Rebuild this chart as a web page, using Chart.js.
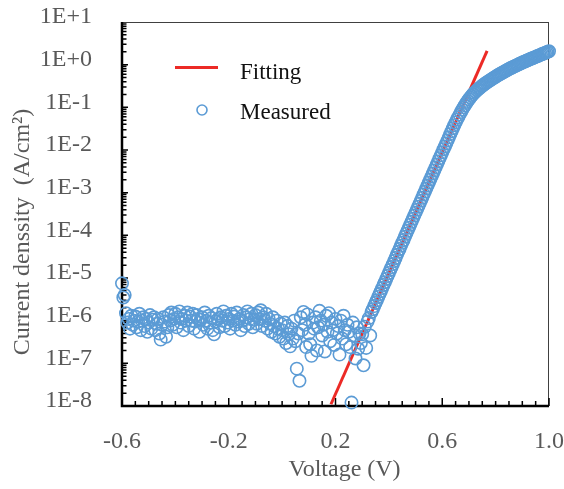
<!DOCTYPE html>
<html>
<head>
<meta charset="utf-8">
<script src="https://cdn.jsdelivr.net/npm/chart.js@4.4.0/dist/chart.umd.min.js"></script>
<style>
html,body{margin:0;padding:0;background:#fff;}
#wrap{width:564px;height:489px;}
</style>
</head>
<body>
<div id="wrap"><canvas id="jv" width="564" height="489"></canvas></div>
<script>
// measured sweep (V) and current density (A/cm2)
const volts = [
  -0.600,-0.595,-0.590,-0.585,-0.580,-0.575,-0.570,-0.565,-0.560,-0.555,
  -0.550,-0.545,-0.540,-0.535,-0.530,-0.525,-0.520,-0.515,-0.510,-0.505,
  -0.500,-0.495,-0.490,-0.485,-0.480,-0.475,-0.470,-0.465,-0.460,-0.455,
  -0.450,-0.445,-0.440,-0.435,-0.430,-0.425,-0.420,-0.415,-0.410,-0.405,
  -0.400,-0.395,-0.390,-0.385,-0.380,-0.375,-0.370,-0.365,-0.360,-0.355,
  -0.350,-0.345,-0.340,-0.335,-0.330,-0.325,-0.320,-0.315,-0.310,-0.305,
  -0.300,-0.295,-0.290,-0.285,-0.280,-0.275,-0.270,-0.265,-0.260,-0.255,
  -0.250,-0.245,-0.240,-0.235,-0.230,-0.225,-0.220,-0.215,-0.210,-0.205,
  -0.200,-0.195,-0.190,-0.185,-0.180,-0.175,-0.170,-0.165,-0.160,-0.155,
  -0.150,-0.145,-0.140,-0.135,-0.130,-0.125,-0.120,-0.115,-0.110,-0.105,
  -0.100,-0.095,-0.090,-0.085,-0.080,-0.075,-0.070,-0.065,-0.060,-0.055,
  -0.050,-0.045,-0.040,-0.035,-0.030,-0.025,-0.020,-0.015,-0.010,-0.005,
  0.000,0.005,0.010,0.015,0.020,0.025,0.030,0.035,0.040,0.045,
  0.050,0.055,0.060,0.065,0.070,0.075,0.080,0.085,0.090,0.095,
  0.100,0.105,0.110,0.115,0.120,0.125,0.130,0.135,0.140,0.145,
  0.150,0.155,0.160,0.165,0.170,0.175,0.180,0.185,0.190,0.195,
  0.200,0.205,0.210,0.215,0.220,0.225,0.230,0.235,0.240,0.245,
  0.250,0.255,0.260,0.265,0.270,0.275,0.280,0.285,0.290,0.295,
  0.300,0.305,0.310,0.315,0.320,0.325,0.330,0.335,0.340,0.345,
  0.350,0.355,0.360,0.365,0.370,0.375,0.380,0.385,0.390,0.395,
  0.400,0.405,0.410,0.415,0.420,0.425,0.430,0.435,0.440,0.445,
  0.450,0.455,0.460,0.465,0.470,0.475,0.480,0.485,0.490,0.495,
  0.500,0.505,0.510,0.515,0.520,0.525,0.530,0.535,0.540,0.545,
  0.550,0.555,0.560,0.565,0.570,0.575,0.580,0.585,0.590,0.595,
  0.600,0.605,0.610,0.615,0.620,0.625,0.630,0.635,0.640,0.645,
  0.650,0.655,0.660,0.665,0.670,0.675,0.680,0.685,0.690,0.695,
  0.700,0.705,0.710,0.715,0.720,0.725,0.730,0.735,0.740,0.745,
  0.750,0.755,0.760,0.765,0.770,0.775,0.780,0.785,0.790,0.795,
  0.800,0.805,0.810,0.815,0.820,0.825,0.830,0.835,0.840,0.845,
  0.850,0.855,0.860,0.865,0.870,0.875,0.880,0.885,0.890,0.895,
  0.900,0.905,0.910,0.915,0.920,0.925,0.930,0.935,0.940,0.945,
  0.950,0.955,0.960,0.965,0.970,0.975,0.980,0.985,0.990,0.995,
  1.000
];
const density = [
  7.5e-6,3.5e-6,4.0e-6,1.5e-6,9.0e-7,1.1e-6,6.5e-7,1.3e-6,8.0e-7,1.0e-6,
  1.25e-6,7.0e-7,9.5e-7,1.45e-6,6.0e-7,1.0e-6,1.2e-6,7.5e-7,1.1e-6,5.5e-7,
  9.0e-7,1.35e-6,6.5e-7,1.05e-6,1.2e-6,6.0e-7,8.5e-7,1.1e-6,5.0e-7,3.6e-7,
  8.0e-7,1.2e-6,9.5e-7,4.2e-7,7.0e-7,1.35e-6,1.0e-6,1.55e-6,8.0e-7,1.1e-6,
  1.45e-6,7.0e-7,1.2e-6,1.65e-6,9.0e-7,1.1e-6,6.0e-7,1.3e-6,1.0e-6,1.55e-6,
  7.5e-7,1.25e-6,1.0e-6,1.45e-6,6.5e-7,9.5e-7,1.35e-6,1.1e-6,5.5e-7,1.05e-6,
  1.2e-6,8.0e-7,1.55e-6,1.0e-6,6.5e-7,1.3e-6,9.0e-7,1.15e-6,6.0e-7,4.8e-7,
  9.5e-7,1.45e-6,1.1e-6,7.0e-7,1.2e-6,1.0e-6,1.65e-6,7.5e-7,1.3e-6,9.0e-7,
  1.1e-6,6.5e-7,1.45e-6,1.0e-6,1.25e-6,8.0e-7,1.55e-6,9.5e-7,1.1e-6,6.0e-7,
  1.0e-6,1.35e-6,7.5e-7,1.2e-6,1.65e-6,8.5e-7,1.1e-6,1.45e-6,7.0e-7,1.05e-6,
  1.35e-6,8.5e-7,1.55e-6,1.1e-6,1.75e-6,7.5e-7,1.2e-6,1.0e-6,1.45e-6,6.5e-7,
  1.1e-6,8.5e-7,5.5e-7,1.2e-6,7.5e-7,5.0e-7,1.0e-6,6.5e-7,4.2e-7,8.5e-7,
  6.0e-7,3.8e-7,9.0e-7,3.0e-7,7.5e-7,4.8e-7,2.5e-7,6.5e-7,3.8e-7,1.0e-6,
  3.3e-7,7.5e-8,5.0e-7,3.9e-8,1.2e-6,6.0e-7,1.6e-6,8.0e-7,2.4e-7,1.4e-6,
  5.0e-7,2.8e-7,1.5e-7,9.0e-7,6.5e-7,1.2e-6,2.0e-7,7.0e-7,1.7e-6,1.0e-6,
  4.5e-7,8.0e-7,1.9e-7,1.3e-6,5.5e-7,1.5e-6,3.3e-7,9.0e-7,6.0e-7,2.7e-7,
  1.1e-6,5.0e-7,7.5e-7,1.6e-7,1.0e-6,3.8e-7,1.3e-6,6.0e-7,2.8e-7,8.0e-7,
  5.5e-7,2.4e-7,1.2e-8,9.0e-7,4.5e-7,1.3e-7,7.0e-7,2.2e-7,5.0e-7,3.0e-7,
  4.8e-7,9.0e-8,7.2e-7,2.3e-7,9.5e-7,1.15e-6,4.5e-7,1.6e-6,1.85e-6,2.2e-6,
  2.6e-6,3.0e-6,3.6e-6,4.2e-6,4.9e-6,5.8e-6,6.9e-6,8.0e-6,9.5e-6,1.12e-5,
  1.31e-5,1.55e-5,1.8e-5,2.12e-5,2.5e-5,2.95e-5,3.5e-5,4.1e-5,4.8e-5,5.7e-5,
  6.7e-5,7.8e-5,9.3e-5,1.09e-4,1.28e-4,1.51e-4,1.77e-4,2.08e-4,2.46e-4,2.9e-4,
  3.4e-4,4.0e-4,4.7e-4,5.5e-4,6.5e-4,7.6e-4,9.1e-4,1.06e-3,1.25e-3,1.47e-3,
  1.73e-3,2.03e-3,2.4e-3,2.82e-3,3.32e-3,3.9e-3,4.6e-3,5.4e-3,6.4e-3,7.5e-3,
  8.8e-3,1.04e-2,1.21e-2,1.42e-2,1.68e-2,1.98e-2,2.35e-2,2.75e-2,3.24e-2,3.8e-2,
  4.42e-2,5.13e-2,5.89e-2,6.76e-2,7.76e-2,8.81e-2,0.100,0.112,0.126,0.140,
  0.155,0.170,0.186,0.202,0.219,0.234,0.251,0.269,0.285,0.302,
  0.320,0.338,0.356,0.376,0.395,0.414,0.434,0.455,0.477,0.499,
  0.522,0.547,0.572,0.594,0.620,0.644,0.672,0.697,0.728,0.755,
  0.790,0.819,0.849,0.879,0.910,0.942,0.975,1.01,1.05,1.08,
  1.12,1.16,1.19,1.23,1.27,1.31,1.35,1.39,1.43,1.48,
  1.52,1.57,1.62,1.67,1.72,1.77,1.82,1.88,1.94,2.00,
  2.06
];

// fitted line end points
const fitVolts = [0.183, 0.768];
const fitDensity = [1.1e-8, 2.1];

const xTickValues = [-0.6, -0.2, 0.2, 0.6, 1.0];
const yTickValues = [1e-8, 1e-7, 1e-6, 1e-5, 1e-4, 1e-3, 1e-2, 1e-1, 1e0, 1e1];

const serif = '"Liberation Serif", "Times New Roman", serif';
const grey = '#595959';

// axes frame, inward ticks, legend
const frame = {
  id: 'frame',
  beforeDatasetsDraw(chart) {
    const {ctx, chartArea: a, scales: {x, y}} = chart;
    ctx.save();
    ctx.strokeStyle = '#404040';
    ctx.lineWidth = 1;
    ctx.beginPath();
    ctx.moveTo(a.left, a.top + 0.5); ctx.lineTo(a.right, a.top + 0.5);
    ctx.moveTo(a.right - 0.5, a.top); ctx.lineTo(a.right - 0.5, a.bottom);
    ctx.stroke();

    ctx.strokeStyle = '#000';
    ctx.lineWidth = 1.5;
    ctx.beginPath();
    for (let e = -8; e < 1; e++) {
      for (let m = 1; m < 10; m++) {
        const py = y.getPixelForValue(m * Math.pow(10, e));
        const len = m === 1 ? 6 : 4.5;
        ctx.moveTo(a.left, py); ctx.lineTo(a.left + len, py);
      }
    }
    for (let i = 0; i <= 32; i++) {
      const px = x.getPixelForValue(-0.6 + i * 0.05);
      const len = i % 8 === 0 ? 8 : 5;
      ctx.moveTo(px, a.bottom); ctx.lineTo(px, a.bottom - len);
    }
    ctx.stroke();

    ctx.lineWidth = 2.5;
    ctx.beginPath();
    ctx.moveTo(a.left, a.top);
    ctx.lineTo(a.left, a.bottom);
    ctx.lineTo(a.right, a.bottom);
    ctx.stroke();
    ctx.restore();
  },
  afterDraw(chart) {
    const {ctx} = chart;
    const meas = chart.data.datasets[0];
    const fit = chart.data.datasets[1];
    ctx.save();
    ctx.strokeStyle = fit.borderColor;
    ctx.lineWidth = fit.borderWidth;
    ctx.beginPath(); ctx.moveTo(175, 67.5); ctx.lineTo(218, 67.5); ctx.stroke();
    ctx.strokeStyle = meas.borderColor;
    ctx.lineWidth = meas.borderWidth;
    ctx.beginPath(); ctx.arc(202, 110, 5, 0, Math.PI * 2); ctx.stroke();
    ctx.fillStyle = '#111';
    ctx.font = '23px ' + serif;
    ctx.textBaseline = 'alphabetic';
    ctx.fillText(fit.label, 240, 79);
    ctx.fillText(meas.label, 240, 119);
    ctx.restore();
  }
};

new Chart(document.getElementById('jv'), {
  type: 'scatter',
  data: {
    datasets: [
      {
        label: 'Measured',
        data: volts.map((v, i) => ({x: v, y: density[i]})),
        borderColor: '#5B9BD5',
        backgroundColor: 'rgba(0,0,0,0)',
        borderWidth: 1.6,
        pointRadius: 6.2,
        pointHoverRadius: 6.2,
        clip: false,
        order: 1
      },
      {
        label: 'Fitting',
        type: 'line',
        data: fitVolts.map((v, i) => ({x: v, y: fitDensity[i]})),
        borderColor: '#EC2A26',
        borderWidth: 3,
        pointRadius: 0,
        fill: false,
        clip: false,
        order: 2
      }
    ]
  },
  options: {
    responsive: false,
    animation: false,
    events: [],
    layout: {padding: {top: 22, right: 15, left: 0, bottom: 0}},
    plugins: {legend: {display: false}, tooltip: {enabled: false}},
    scales: {
      x: {
        type: 'linear',
        min: -0.6,
        max: 1.0,
        grid: {display: false, drawTicks: false, tickLength: 0},
        border: {display: false},
        afterBuildTicks: (s) => { s.ticks = xTickValues.map(v => ({value: v})); },
        afterFit: (s) => { s.height = 83; s.paddingLeft = 0; s.paddingRight = 0; },
        ticks: {
          font: {family: serif, size: 24},
          color: grey,
          padding: 21,
          maxRotation: 0,
          autoSkip: false,
          callback: (v) => Number(v).toFixed(1)
        },
        title: {
          display: true,
          text: '   Voltage (V)',
          font: {family: serif, size: 24},
          color: grey,
          padding: {top: 0, bottom: 5}
        }
      },
      y: {
        type: 'logarithmic',
        min: 1e-8,
        max: 10,
        grid: {display: false, drawTicks: false, tickLength: 0},
        border: {display: false},
        afterBuildTicks: (s) => { s.ticks = yTickValues.map(v => ({value: v})); },
        afterFit: (s) => { s.width = 122; s.paddingTop = 0; s.paddingBottom = 0; },
        ticks: {
          font: {family: serif, size: 24},
          color: grey,
          padding: 30,
          labelOffset: -5,
          autoSkip: false,
          callback: (v) => {
            const e = Math.round(Math.log10(v));
            return '1E' + (e >= 0 ? '+' : '') + e;
          }
        },
        title: {
          display: true,
          text: 'Current denssity  (A/cm\u00B2)      ',
          font: {family: serif, size: 24},
          color: grey,
          padding: {top: 8, bottom: 0}
        }
      }
    }
  },
  plugins: [frame]
});
</script>
</body>
</html>
